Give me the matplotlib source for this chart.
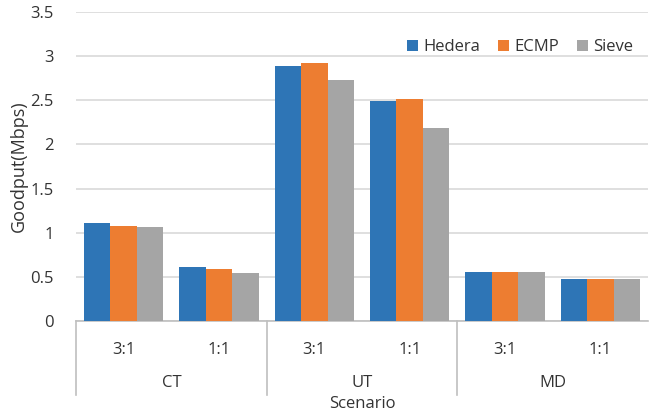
import numpy as np
import matplotlib.pyplot as plt
import matplotlib.transforms as mtransforms

# goodput per scenario / oversubscription ratio
groups = ['CT', 'UT', 'MD']
ratios = ['3:1', '1:1', '3:1', '1:1', '3:1', '1:1']
hedera = [1.11, 0.61, 2.89, 2.49, 0.56, 0.48]
ecmp = [1.08, 0.59, 2.92, 2.52, 0.56, 0.48]
sieve = [1.07, 0.54, 2.73, 2.19, 0.56, 0.48]

series = [('Hedera', hedera, '#2E75B6'),
          ('ECMP', ecmp, '#ED7D31'),
          ('Sieve', sieve, '#A5A5A5')]

plt.rcParams['font.family'] = ['Open Sans', 'DejaVu Sans']
txt = '#333333'

fig = plt.figure(figsize=(6.5, 4.16), dpi=100)
ax = fig.add_axes([76 / 650, 95 / 416, 572 / 650, 309 / 416])

x = np.arange(len(ratios))
w = 0.277
for i, (name, vals, col) in enumerate(series):
    ax.bar(x + (i - 1) * w, vals, w, color=col, label=name, zorder=3)

ax.set_xlim(-0.5, len(ratios) - 0.5)
ax.set_ylim(0, 3.5)
ax.set_yticks(np.arange(0, 3.51, 0.5))
ax.set_yticklabels(['0', '0.5', '1', '1.5', '2', '2.5', '3', '3.5'])
ax.grid(axis='y', color='#d9d9d9', lw=1.2, zorder=0)
for s in ['top', 'right', 'left']:
    ax.spines[s].set_visible(False)
ax.spines['bottom'].set_color('#bfbfbf')
ax.spines['bottom'].set_linewidth(1.2)
ax.tick_params(axis='y', length=0, pad=16, labelsize=12, labelcolor=txt)
ax.tick_params(axis='x', length=0, pad=15, labelsize=12, labelcolor=txt)
ax.set_xticks(x)
ax.set_xticklabels(ratios)

# group separators and group names below the axis
trans = mtransforms.blended_transform_factory(ax.transData, ax.transAxes)
for b in [-0.5, 1.5, 3.5]:
    ax.plot([b, b], [0, -0.24], transform=trans, color='#bfbfbf', lw=1.2,
            clip_on=False)
for gi, g in enumerate(groups):
    ax.text(gi * 2 + 0.5, -0.2, g, transform=trans, ha='center', va='center',
            fontsize=12, color=txt)
ax.text(2.5, -0.268, 'Scenario', transform=trans, ha='center', va='center',
        fontsize=12, color=txt)

ax.set_ylabel('Goodput(Mbps)', fontsize=13, color=txt, labelpad=2)

leg = ax.legend(loc='upper right', bbox_to_anchor=(1.0, 0.96), ncol=3,
                frameon=False, fontsize=12, handlelength=0.65,
                handleheight=0.65, handletextpad=0.3, columnspacing=1.1)
for t in leg.get_texts():
    t.set_color(txt)

fig.savefig('out.png', dpi=100)
